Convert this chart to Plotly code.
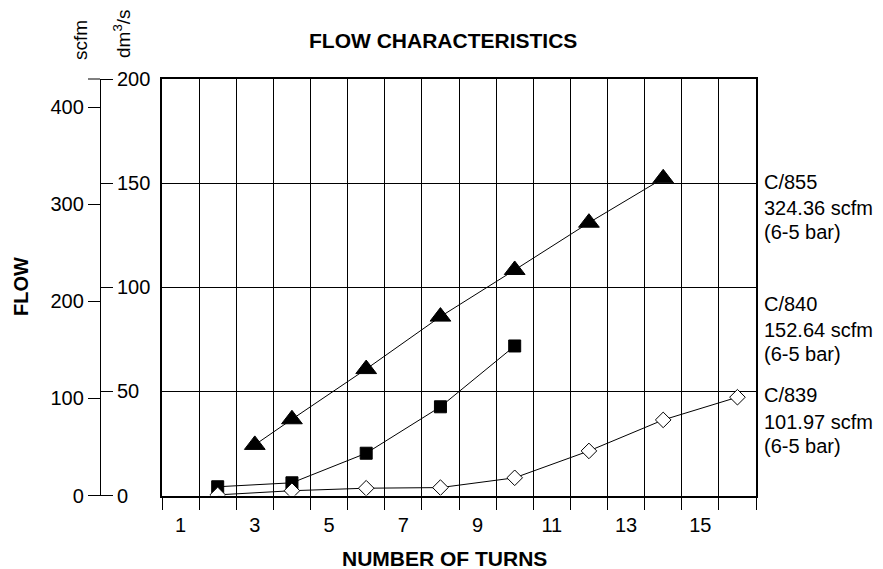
import plotly.graph_objects as go

# page offset: the browser body adds an 8px margin
OFF = 8
PAGE_W, PAGE_H = 883, 569
W, H = PAGE_W - OFF, PAGE_H - OFF

# ---- data (dm3/s vs number of turns) ----
turns_c855 = [3, 4, 6, 8, 10, 12, 14]
flow_c855 = [24.3, 36.6, 60.7, 85.9, 108.3, 131.0, 152.3]
turns_c840 = [2, 4, 6, 8, 10]
flow_c840 = [4.2, 6.1, 20.3, 42.6, 71.8]
turns_c839 = [2, 4, 6, 8, 10, 12, 14, 16]
flow_c839 = [0.3, 2.3, 3.5, 3.8, 8.5, 21.4, 36.3, 47.2]

x_labels = [1, 3, 5, 7, 9, 11, 13, 15]
dm3_ticks = [0, 50, 100, 150, 200]
scfm_ticks = [0, 100, 200, 300, 400]
scfm_per_dm3 = 2.1446

labels = [
    ("C/855", "324.36 scfm", "(6-5 bar)"),
    ("C/840", "152.64 scfm", "(6-5 bar)"),
    ("C/839", "101.97 scfm", "(6-5 bar)"),
]

FONT = "Liberation Sans, Arial, Helvetica, sans-serif"


def px(x):
    return (x - OFF) / W


def py(y):
    return 1 - (y - OFF) / H


x_dom = [px(162), px(756)]
y_dom = [py(495.5), py(79)]

fig = go.Figure()

line = dict(color="black", width=1)
fig.add_trace(go.Scatter(x=turns_c855, y=flow_c855, mode="lines+markers", line=line,
                         marker=dict(symbol="triangle-up", size=18, color="black",
                                     line=dict(color="black", width=1))))
fig.add_trace(go.Scatter(x=turns_c840, y=flow_c840, mode="lines+markers", line=line,
                         marker=dict(symbol="square", size=12, color="black",
                                     line=dict(color="black", width=1))))
fig.add_trace(go.Scatter(x=turns_c839, y=flow_c839, mode="lines+markers", line=line,
                         marker=dict(symbol="diamond", size=12, color="white",
                                     line=dict(color="black", width=1))))

# invisible helpers so the extra axes are drawn
ghost = dict(mode="markers", marker=dict(opacity=0), hoverinfo="skip", showlegend=False)
fig.add_trace(go.Scatter(x=[1], y=[0], xaxis="x2", yaxis="y", **ghost))
fig.add_trace(go.Scatter(x=[1], y=[0], xaxis="x", yaxis="y2", **ghost))
fig.add_trace(go.Scatter(x=[1], y=[0], xaxis="x", yaxis="y3", **ghost))

tickfont = dict(family=FONT, size=20, color="black")

fig.update_layout(
    width=W, height=H,
    margin=dict(l=0, r=0, t=0, b=0, autoexpand=False),
    paper_bgcolor="white", plot_bgcolor="white",
    showlegend=False,
    font=dict(family=FONT, color="black"),
    xaxis=dict(domain=x_dom, range=[0.5, 16.5], tickmode="array",
               tickvals=[i + 0.5 for i in range(0, 17)], ticktext=[""] * 17,
               ticks="outside", ticklen=12, tickwidth=1, tickcolor="black",
               showgrid=True, gridcolor="black", gridwidth=1,
               showline=True, linecolor="black", linewidth=2, mirror=True,
               zeroline=False, anchor="y"),
    xaxis2=dict(domain=x_dom, range=[0.5, 16.5], overlaying="x", anchor="y", side="bottom",
                tickmode="array", tickvals=x_labels, ticktext=[str(v) for v in x_labels],
                ticks="outside", ticklen=11, tickcolor="rgba(0,0,0,0)",
                showgrid=False, showline=False, zeroline=False,
                tickfont=dict(family=FONT, size=20, color="black")),
    # dm3/s axis: line at x=100, ticks and labels to its right
    yaxis=dict(domain=y_dom, range=[0, 200], anchor="free", position=px(100), side="right",
               tickmode="array", tickvals=dm3_ticks,
               ticks="outside", ticklen=12, tickwidth=1, tickcolor="black",
               tickfont=tickfont,
               showgrid=True, gridcolor="black", gridwidth=1,
               showline=True, linecolor="black", linewidth=1, zeroline=False),
    # scfm axis: same line, ticks and labels to its left
    yaxis2=dict(domain=y_dom, range=[0, 200 * scfm_per_dm3], overlaying="y", anchor="free",
                position=px(100), side="left", tickmode="array", tickvals=scfm_ticks,
                ticks="outside", ticklen=12, tickwidth=1, tickcolor="black",
                tickfont=tickfont, showgrid=False, showline=True, linecolor="black",
                linewidth=1.3, zeroline=False),
    # plot frame left/right
    yaxis3=dict(domain=y_dom, range=[0, 200], overlaying="y", anchor="x", side="left",
                showticklabels=False, ticks="", showgrid=False, zeroline=False,
                showline=True, linecolor="black", linewidth=2, mirror=True),
)

# small cap at the top of the left axes
fig.add_shape(type="line", xref="paper", yref="paper", x0=px(88), x1=px(100),
              y0=y_dom[1], y1=y_dom[1], line=dict(color="black", width=1))

ann = []
ann.append(dict(text="<b>FLOW CHARACTERISTICS</b>", x=px(443), y=py(40.5), font=dict(size=21)))
ann.append(dict(text="<b>NUMBER OF TURNS</b>", x=px(444), y=py(558), font=dict(size=21)))
ann.append(dict(text="<b>FLOW</b>", x=px(21), y=py(287), textangle=-90, font=dict(size=20)))
ann.append(dict(text="scfm", x=px(81), y=py(40), textangle=-90, font=dict(size=19)))
ann.append(dict(text="dm<sup>3</sup>/s", x=px(122), y=py(34), textangle=-90, font=dict(size=19)))
for a in ann:
    a.update(xref="paper", yref="paper", showarrow=False, xanchor="center", yanchor="middle")
    a["font"].update(family=FONT, color="black")

label_rows_y = [(181.7, 207.7, 231.7), (304.3, 330.0, 354.3), (395.0, 421.7, 445.7)]
for lines, ys in zip(labels, label_rows_y):
    for t, yc in zip(lines, ys):
        ann.append(dict(text=t, x=px(762), y=py(yc), xref="paper", yref="paper",
                        xanchor="left", yanchor="middle", align="left", showarrow=False,
                        font=dict(family=FONT, size=20, color="black")))

fig.update_layout(annotations=ann)

fig.write_html("out.html")
